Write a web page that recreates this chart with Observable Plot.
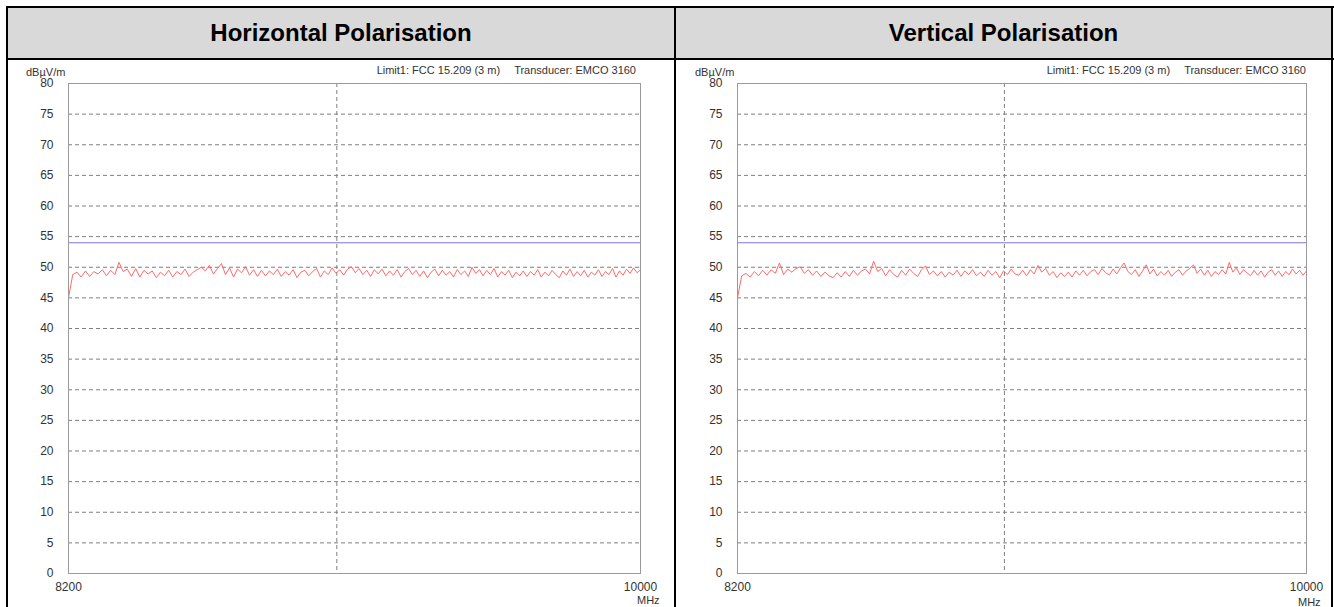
<!DOCTYPE html>
<html><head><meta charset="utf-8">
<script src="https://cdn.jsdelivr.net/npm/d3@7"></script>
<script src="https://cdn.jsdelivr.net/npm/@observablehq/plot@0.6"></script>
<style>
body{margin:0;background:#fff;font-family:Arial,"Liberation Sans",sans-serif;}
#page{position:relative;width:1334px;height:607px;overflow:hidden;background:#fff;}
.hdr{position:absolute;top:8px;height:50px;background:#d9d9d9;display:flex;align-items:center;justify-content:center;font-weight:bold;font-size:24px;color:#000;}
.ln{position:absolute;background:#000;z-index:2;}
.lbl{position:absolute;font-size:11px;color:#333;white-space:nowrap;line-height:12px;}
.chart{position:absolute;top:60px;width:675px;height:547px;}
.chart svg{max-width:none !important;width:675px;height:547px;}
</style>
</head><body>
<div id="page">
  <div class="hdr" style="left:8px;width:666px;">Horizontal Polarisation</div>
  <div class="hdr" style="left:676px;width:655px;">Vertical Polarisation</div>
  <div id="c1" class="chart" style="left:0px;"></div>
  <div id="c2" class="chart" style="left:669px;"></div>
  <div class="ln" style="left:6px;top:6px;width:1328px;height:2px;"></div>
  <div class="ln" style="left:6px;top:58px;width:1328px;height:2px;"></div>
  <div class="ln" style="left:6px;top:6px;width:2px;height:601px;"></div>
  <div class="ln" style="left:674px;top:6px;width:2px;height:601px;"></div>
  <div class="ln" style="left:1331px;top:6px;width:2px;height:601px;"></div>
  <div class="lbl" style="left:26px;top:66px;">dBµV/m</div>
  <div class="lbl" style="left:695px;top:66px;">dBµV/m</div>
  <div class="lbl" style="right:698px;top:64px;">Limit1: FCC 15.209 (3 m)<span style="display:inline-block;width:14px"></span>Transducer: EMCO 3160</div>
  <div class="lbl" style="right:28px;top:64px;">Limit1: FCC 15.209 (3 m)<span style="display:inline-block;width:14px"></span>Transducer: EMCO 3160</div>
  <div class="lbl" style="left:637px;top:594px;">MHz</div>
  <div class="lbl" style="left:1298px;top:596px;">MHz</div>
</div>
<script>
// sweep: 8200 -> 10000 MHz
const fStart = 8200, fStop = 10000, fMid = 9000;
const yTicks = [0,5,10,15,20,25,30,35,40,45,50,55,60,65,70,75,80];
const xTicks = [8200, 10000];
const limit1 = 54;

const horizontal = [
45.0,48.8,49.2,48.4,49.4,48.5,49.3,48.9,49.6,48.6,
49.5,48.8,50.8,49.3,49.7,48.5,49.8,48.4,49.5,48.9,
49.4,48.3,49.2,48.6,49.5,48.4,49.3,48.8,49.7,48.5,
49.2,49.6,50.0,49.4,50.3,48.9,49.8,50.6,48.8,49.9,
48.4,49.7,49.1,50.1,48.7,49.6,48.5,49.5,48.6,49.4,
48.8,49.7,48.5,49.3,48.7,49.6,48.3,49.2,49.5,48.6,
49.3,49.8,48.4,49.4,48.8,49.9,49.0,49.6,48.7,49.7,
50.1,49.1,49.8,48.8,49.5,48.5,49.6,48.9,49.7,48.6,
49.4,48.7,49.6,48.4,49.3,49.8,48.8,49.5,48.5,49.4,
48.3,49.2,49.7,48.6,49.5,48.7,49.3,48.4,49.6,48.8,
49.4,48.5,50.0,49.0,49.6,48.6,49.5,48.8,49.8,48.4,
49.3,48.7,49.5,48.3,49.2,48.6,49.4,48.5,49.3,48.7,
49.6,48.4,49.2,48.6,49.5,48.8,48.3,49.4,48.7,49.7,
48.5,49.3,48.6,49.5,48.4,49.2,48.7,49.6,48.5,49.3,
48.8,49.8,48.4,49.4,48.7,49.7,49.0,49.9,49.1,49.6
];
const vertical = [
45.0,48.6,49.0,48.4,49.3,48.6,49.5,48.7,49.6,49.0,
50.7,48.8,49.7,49.2,49.8,50.1,49.0,49.6,48.7,49.4,
48.5,49.2,48.6,48.3,49.1,48.4,49.3,48.5,49.5,48.7,
49.4,49.7,48.9,51.0,49.3,49.8,48.6,49.6,48.8,48.4,
49.5,48.7,49.7,49.0,48.5,49.6,50.2,48.8,49.4,48.6,
49.3,48.4,49.2,48.7,49.5,48.5,49.4,48.8,49.6,48.6,
49.2,48.5,49.5,48.7,49.3,48.3,49.4,48.8,49.7,48.9,
48.7,49.5,48.6,49.6,48.9,50.3,49.2,49.8,48.7,49.3,
48.3,49.1,48.5,49.2,48.4,49.4,48.7,49.5,48.6,49.3,
49.6,48.8,49.8,49.1,48.7,49.7,48.9,49.9,50.7,49.3,
48.8,49.6,48.5,49.4,50.4,48.9,49.7,48.6,49.3,48.7,
49.5,48.5,49.2,49.6,48.7,49.4,49.8,50.4,49.0,49.7,
48.7,49.5,48.5,49.3,48.8,49.6,48.9,50.8,49.2,49.9,
48.8,49.6,49.1,48.6,49.5,48.7,49.4,48.4,49.2,49.6,
48.7,49.4,48.5,49.3,48.8,49.7,48.9,49.5,48.7,49.4
];

function toRows(vals){
  const n = vals.length;
  return vals.map((v,i)=>({f: fStart + i*(fStop-fStart)/(n-1), v}));
}

function chart(vals, marginRight){
  const grid = yTicks.filter(t => t > 0 && t < 80);
  return Plot.plot({
    width: 675, height: 547,
    marginLeft: 68, marginRight, marginTop: 23, marginBottom: 34,
    style: {fontFamily: "Arial, 'Liberation Sans', sans-serif", fontSize: "12px", color: "#333", background: "transparent", maxWidth: "none"},
    x: {type: "log", domain: [fStart, fStop], ticks: xTicks, tickFormat: d3.format("d"), tickSize: 0, tickPadding: 9, label: null},
    y: {domain: [0, 80], ticks: yTicks, tickSize: 0, tickPadding: 15, label: null},
    marks: [
      Plot.ruleY(grid, {stroke: "#7f7f7f", strokeDasharray: "4,3", strokeWidth: 1}),
      Plot.ruleX([fMid], {stroke: "#7f7f7f", strokeDasharray: "4,3", strokeWidth: 1}),
      Plot.ruleY([limit1], {stroke: "#7878f0", strokeWidth: 1}),
      Plot.line(toRows(vals), {x: "f", y: "v", stroke: "#ff6a6a", strokeWidth: 1}),
      Plot.frame({stroke: "#9a9a9a"})
    ]
  });
}
document.getElementById("c1").append(chart(horizontal, 35));
document.getElementById("c2").append(chart(vertical, 38));
</script>
</body></html>
